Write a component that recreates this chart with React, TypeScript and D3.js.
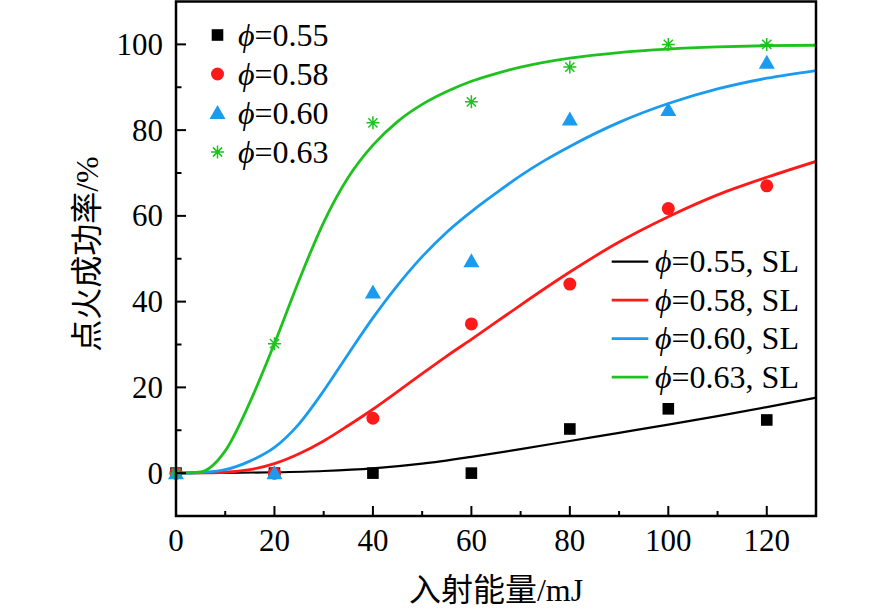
import React from "react";
import * as d3 from "d3";

const W = 886;
const H = 613;

// Measured points
const energy = [0, 20, 40, 60, 80, 100, 120];
const p055 = [0, 0, 0, 0, 10.3, 15.0, 12.4];
const p058 = [0, 0, 12.8, 34.8, 44.1, 61.7, 67.0];
const p060 = [0, 0, 42.1, 49.4, 82.5, 84.7, 95.7];
const p063 = [0, 30.2, 81.7, 86.6, 94.7, 100, 100];

// Fitted curves
const fitX055 = [0, 10, 20, 30, 40, 50, 60, 70, 80, 90, 100, 110, 120, 130];
const fit055 = [0, 0.05, 0.2, 0.5, 1.1, 2.2, 3.8, 5.6, 7.5, 9.4, 11.3, 13.3, 15.4, 17.6];
const fitX058 = [0, 5, 10, 15, 20, 25, 30, 35, 40, 45, 50, 55, 60, 65, 70, 80, 90, 100, 110, 120, 130];
const fit058 = [0, 0.05, 0.2, 0.8, 2.2, 4.5, 7.5, 11.1, 14.9, 19, 23.2, 27.3, 31.2, 35.2, 39.2, 46.9, 53.9, 59.8, 64.9, 69, 72.7];
const fitX060 = [0, 5, 10, 15, 20, 25, 30, 35, 40, 45, 50, 55, 60, 65, 70, 75, 80, 90, 100, 110, 120, 130];
const fit060 = [0, 0.15, 0.8, 2.8, 6, 11.5, 19.2, 27.8, 36.2, 43.8, 50.5, 56.2, 61, 65.3, 69.4, 73, 76.2, 81.8, 86.2, 89.6, 92.1, 93.9];
const fitX063 = [0, 5, 10, 15, 20, 25, 30, 35, 40, 45, 50, 55, 60, 65, 70, 80, 90, 100, 110, 120, 130];
const fit063 = [0, 0.3, 5.2, 16.5, 30.2, 45, 58.5, 69, 76.5, 82, 86, 89, 91.4, 93.2, 94.7, 96.8, 98.1, 98.9, 99.4, 99.7, 99.8];

const xTicks = [0, 20, 40, 60, 80, 100, 120];
const xMinor = [10, 30, 50, 70, 90, 110];
const yTicks = [0, 20, 40, 60, 80, 100];
const yMinor = [10, 30, 50, 70, 90];

const names = ["0.55", "0.58", "0.60", "0.63"];
const colors = ["#000000", "#ff1a1a", "#1a9bf0", "#1ec21e"];

const x = d3.scaleLinear().domain([0, 130]).range([176, 816]);
const y = d3.scaleLinear().domain([-10, 110]).range([516, 1.5]);

const line = d3
  .line<[number, number]>()
  .x((d) => x(d[0]))
  .y((d) => y(d[1]))
  .curve(d3.curveMonotoneX);

const FONT = "'Liberation Serif', 'Times New Roman', serif";
const CJK = "'Liberation Serif', 'Noto Sans CJK SC', serif";

function Marker({ kind, cx, cy, color }: { kind: number; cx: number; cy: number; color: string }) {
  if (kind === 0) return <rect x={cx - 5.8} y={cy - 5.8} width={11.6} height={11.6} fill={color} />;
  if (kind === 1) return <circle cx={cx} cy={cy} r={6.5} fill={color} />;
  if (kind === 2)
    return <path d={`M${cx},${cy - 8} L${cx + 8},${cy + 6} L${cx - 8},${cy + 6} Z`} fill={color} />;
  const r = 6.5;
  const segs = [0, 45, 90, 135].map((a) => {
    const t = (a * Math.PI) / 180;
    return `M${cx - r * Math.cos(t)},${cy - r * Math.sin(t)} L${cx + r * Math.cos(t)},${cy + r * Math.sin(t)}`;
  });
  return <path d={segs.join(" ")} stroke={color} strokeWidth={1.5} fill="none" />;
}

export default function App() {
  const fits: [number[], number[]][] = [
    [fitX055, fit055],
    [fitX058, fit058],
    [fitX060, fit060],
    [fitX063, fit063],
  ];
  const pts = [p055, p058, p060, p063];
  return (
    <div style={{ position: "absolute", left: 0, top: 0 }}>
      <svg width={W} height={H} xmlns="http://www.w3.org/2000/svg">
        <rect x={0} y={0} width={W} height={H} fill="#fff" />
        <defs>
          <clipPath id="plot">
            <rect x={176} y={1.5} width={640} height={514.5} />
          </clipPath>
        </defs>
        <g clipPath="url(#plot)">
          {fits.map(([xs, ys], i) => (
            <path
              key={i}
              d={line(xs.map((v, j) => [v, ys[j]] as [number, number])) || ""}
              fill="none"
              stroke={colors[i]}
              strokeWidth={i === 0 ? 2.2 : 2.8}
            />
          ))}
        </g>
        {pts.map((ys, i) => (
          <g key={i}>
            {energy.map((e, j) => (
              <Marker key={j} kind={i} cx={x(e)} cy={y(ys[j])} color={colors[i]} />
            ))}
          </g>
        ))}
        {/* frame */}
        <rect x={176} y={1.5} width={640} height={514.5} fill="none" stroke="#000" strokeWidth={2.5} />
        {/* ticks */}
        {xTicks.map((t) => (
          <line key={"xt" + t} x1={x(t)} x2={x(t)} y1={516} y2={506} stroke="#000" strokeWidth={2} />
        ))}
        {xMinor.map((t) => (
          <line key={"xm" + t} x1={x(t)} x2={x(t)} y1={516} y2={511} stroke="#000" strokeWidth={2} />
        ))}
        {yTicks.map((t) => (
          <line key={"yt" + t} x1={176} x2={186} y1={y(t)} y2={y(t)} stroke="#000" strokeWidth={2} />
        ))}
        {yMinor.map((t) => (
          <line key={"ym" + t} x1={176} x2={181.5} y1={y(t)} y2={y(t)} stroke="#000" strokeWidth={2} />
        ))}
        {/* tick labels */}
        {xTicks.map((t) => (
          <text key={"xl" + t} x={x(t)} y={551} textAnchor="middle" fontFamily={FONT} fontSize={31}>
            {t}
          </text>
        ))}
        {yTicks.map((t) => (
          <text key={"yl" + t} x={163} y={y(t) + 10.5} textAnchor="end" fontFamily={FONT} fontSize={31}>
            {t}
          </text>
        ))}
        {/* axis titles */}
        <text x={496} y={601} textAnchor="middle" fontFamily={CJK} fontSize={32}>
          入射能量/mJ
        </text>
        <text
          transform="translate(98,254) rotate(-90)"
          textAnchor="middle"
          fontFamily={CJK}
          fontSize={32}
        >
          点火成功率/%
        </text>
        {/* legend 1 */}
        {names.map((n, i) => {
          const cy = 35 + i * 39;
          return (
            <g key={"lg1" + i}>
              <Marker kind={i} cx={217.5} cy={cy} color={colors[i]} />
              <text x={238} y={cy + 11} fontFamily={FONT} fontSize={32}>
                <tspan fontStyle="italic">ϕ</tspan>={n}
              </text>
            </g>
          );
        })}
        {/* legend 2 */}
        {names.map((n, i) => {
          const cy = 261.7 + i * 38.5;
          return (
            <g key={"lg2" + i}>
              <line x1={611.7} x2={648.3} y1={cy} y2={cy} stroke={colors[i]} strokeWidth={i === 0 ? 2.2 : 2.8} />
              <text x={655} y={cy + 10.6} fontFamily={FONT} fontSize={32}>
                <tspan fontStyle="italic">ϕ</tspan>={n}, SL
              </text>
            </g>
          );
        })}
      </svg>
    </div>
  );
}
